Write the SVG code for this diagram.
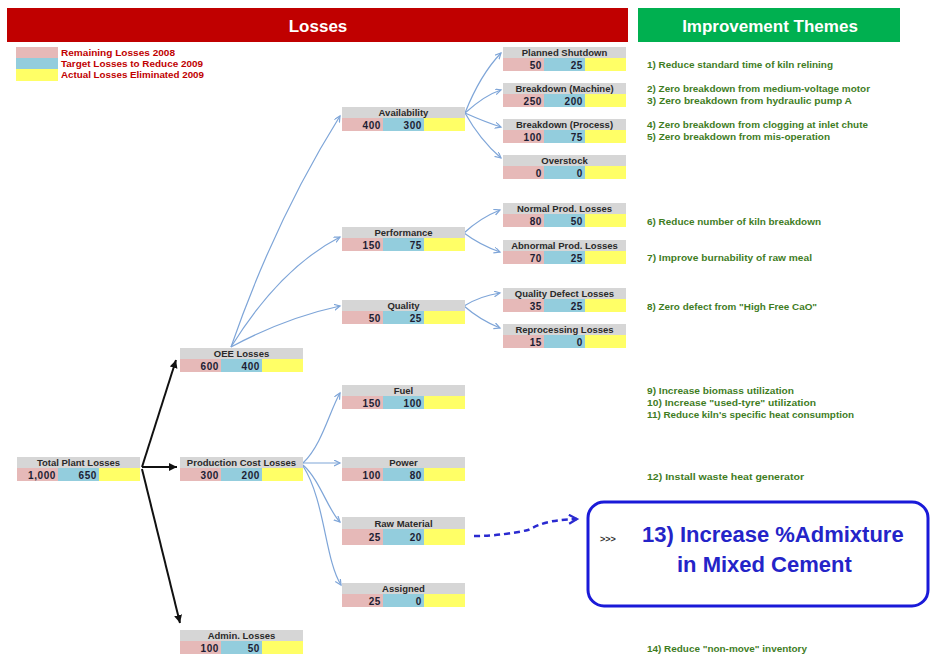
<svg xmlns="http://www.w3.org/2000/svg" width="932" height="661" viewBox="0 0 932 661">
<style>
text{font-family:"Liberation Sans",Arial,sans-serif;font-weight:bold}
.g{fill:#d6d6d6}.p{fill:#e6b9b8}.b{fill:#93cddd}.y{fill:#ffff66}
.lbl{font-size:9.5px;fill:#2a2a2a;text-anchor:middle}
.val{font-size:10px;fill:#1d1d33;text-anchor:end;letter-spacing:0.6px}
.th{font-size:9.5px;fill:#3f7d1f}
.lg{font-size:9px;fill:#c00000}
.bl{fill:none;stroke:#7ea5d8;stroke-width:1.2}
.bk{fill:none;stroke:#111;stroke-width:2}
</style>
<defs>
<marker id="ab" markerUnits="userSpaceOnUse" markerWidth="8" markerHeight="8" refX="6" refY="3" orient="auto"><path d="M0,0 L6,3 L0,6" fill="none" stroke="#7ea5d8" stroke-width="1.2"/></marker>
<marker id="ak" markerUnits="userSpaceOnUse" markerWidth="10" markerHeight="10" refX="8" refY="4" orient="auto"><path d="M0,0 L8,4 L0,8 Z" fill="#111"/></marker>
<marker id="ad" markerUnits="userSpaceOnUse" markerWidth="12" markerHeight="12" refX="9" refY="5" orient="auto"><path d="M1,0.5 L9,5 L1,9.5" fill="none" stroke="#2a2ad0" stroke-width="2.2"/></marker>
</defs>
<rect width="932" height="661" fill="#fff"/>
<g id="headers">
<rect x="7" y="8" width="621" height="34" fill="#c00000"/>
<text x="318" y="32" font-size="17" fill="#fff" text-anchor="middle">Losses</text>
<rect x="638" y="8" width="262" height="34" fill="#00b050"/>
<text x="770" y="32" font-size="17" fill="#fff" text-anchor="middle">Improvement Themes</text>
</g>
<g id="legend">
<rect class="p" x="16" y="47" width="42" height="11"/>
<rect class="b" x="16" y="58" width="42" height="11"/>
<rect class="y" x="16" y="69" width="42" height="12"/>
<text class="lg" x="61" y="56" textLength="114" lengthAdjust="spacingAndGlyphs">Remaining Losses 2008</text>
<text class="lg" x="61" y="67" textLength="142" lengthAdjust="spacingAndGlyphs">Target Losses to Reduce 2009</text>
<text class="lg" x="61" y="78" textLength="143" lengthAdjust="spacingAndGlyphs">Actual Losses Eliminated 2009</text>
</g>
<g id="connectors">
<path class="bk" d="M142,467 L176,360" marker-end="url(#ak)"/>
<path class="bk" d="M142,467 L177,467" marker-end="url(#ak)"/>
<path class="bk" d="M142,469 L180,623" marker-end="url(#ak)"/>
<path class="bl" d="M231,347 Q275,220 340,116" marker-end="url(#ab)"/>
<path class="bl" d="M231,347 Q280,268 340,237" marker-end="url(#ab)"/>
<path class="bl" d="M231,347 Q285,318 340,306" marker-end="url(#ab)"/>
<path class="bl" d="M465,113 Q480,75 501,53" marker-end="url(#ab)"/>
<path class="bl" d="M465,113 Q485,95 501,90" marker-end="url(#ab)"/>
<path class="bl" d="M465,113 Q485,122 501,127" marker-end="url(#ab)"/>
<path class="bl" d="M465,113 Q480,140 501,158" marker-end="url(#ab)"/>
<path class="bl" d="M464,233 Q480,218 500,210" marker-end="url(#ab)"/>
<path class="bl" d="M464,233 Q480,245 500,252" marker-end="url(#ab)"/>
<path class="bl" d="M464,306 Q480,296 500,293" marker-end="url(#ab)"/>
<path class="bl" d="M464,306 Q480,320 500,328" marker-end="url(#ab)"/>
<path class="bl" d="M303,463 C322,445 330,410 340,393" marker-end="url(#ab)"/>
<path class="bl" d="M303,463 L340,463" marker-end="url(#ab)"/>
<path class="bl" d="M303,465 C320,480 328,510 340,522" marker-end="url(#ab)"/>
<path class="bl" d="M303,466 C325,500 325,560 341,585" marker-end="url(#ab)"/>
<path d="M474,536 C495,536 515,533 528,530 C540,524 548,520 577,519" fill="none" stroke="#2a2ad0" stroke-width="2.5" stroke-dasharray="6,4" marker-end="url(#ad)"/>
</g>
<g id="n-total"><rect class="g" x="17" y="457" width="123" height="11"/><rect class="p" x="17" y="468" width="41" height="13"/><rect class="b" x="58" y="468" width="41" height="13"/><rect class="y" x="99" y="468" width="41" height="13"/><text class="lbl" x="78.5" y="466">Total Plant Losses</text><text class="val" x="56" y="478.5">1,000</text><text class="val" x="97" y="478.5">650</text></g>
<g id="n-oee"><rect class="g" x="180" y="348" width="123" height="11"/><rect class="p" x="180" y="359" width="41" height="13"/><rect class="b" x="221" y="359" width="41" height="13"/><rect class="y" x="262" y="359" width="41" height="13"/><text class="lbl" x="241.5" y="357">OEE Losses</text><text class="val" x="219" y="369.5">600</text><text class="val" x="260" y="369.5">400</text></g>
<g id="n-prod"><rect class="g" x="180" y="457" width="123" height="11"/><rect class="p" x="180" y="468" width="41" height="13"/><rect class="b" x="221" y="468" width="41" height="13"/><rect class="y" x="262" y="468" width="41" height="13"/><text class="lbl" x="241.5" y="466">Production Cost Losses</text><text class="val" x="219" y="478.5">300</text><text class="val" x="260" y="478.5">200</text></g>
<g id="n-admin"><rect class="g" x="180" y="630" width="123" height="11"/><rect class="p" x="180" y="641" width="41" height="13"/><rect class="b" x="221" y="641" width="41" height="13"/><rect class="y" x="262" y="641" width="41" height="13"/><text class="lbl" x="241.5" y="639">Admin. Losses</text><text class="val" x="219" y="651.5">100</text><text class="val" x="260" y="651.5">50</text></g>
<g id="n-avail"><rect class="g" x="342" y="107" width="123" height="11"/><rect class="p" x="342" y="118" width="41" height="13"/><rect class="b" x="383" y="118" width="41" height="13"/><rect class="y" x="424" y="118" width="41" height="13"/><text class="lbl" x="403.5" y="116">Availability</text><text class="val" x="381" y="128.5">400</text><text class="val" x="422" y="128.5">300</text></g>
<g id="n-perf"><rect class="g" x="342" y="227" width="123" height="11"/><rect class="p" x="342" y="238" width="41" height="13"/><rect class="b" x="383" y="238" width="41" height="13"/><rect class="y" x="424" y="238" width="41" height="13"/><text class="lbl" x="403.5" y="236">Performance</text><text class="val" x="381" y="248.5">150</text><text class="val" x="422" y="248.5">75</text></g>
<g id="n-qual"><rect class="g" x="342" y="300" width="123" height="11"/><rect class="p" x="342" y="311" width="41" height="13"/><rect class="b" x="383" y="311" width="41" height="13"/><rect class="y" x="424" y="311" width="41" height="13"/><text class="lbl" x="403.5" y="309">Quality</text><text class="val" x="381" y="321.5">50</text><text class="val" x="422" y="321.5">25</text></g>
<g id="n-fuel"><rect class="g" x="342" y="385" width="123" height="11"/><rect class="p" x="342" y="396" width="41" height="13"/><rect class="b" x="383" y="396" width="41" height="13"/><rect class="y" x="424" y="396" width="41" height="13"/><text class="lbl" x="403.5" y="394">Fuel</text><text class="val" x="381" y="406.5">150</text><text class="val" x="422" y="406.5">100</text></g>
<g id="n-power"><rect class="g" x="342" y="457" width="123" height="11"/><rect class="p" x="342" y="468" width="41" height="13"/><rect class="b" x="383" y="468" width="41" height="13"/><rect class="y" x="424" y="468" width="41" height="13"/><text class="lbl" x="403.5" y="466">Power</text><text class="val" x="381" y="478.5">100</text><text class="val" x="422" y="478.5">80</text></g>
<g id="n-raw"><rect class="g" x="342" y="517" width="123" height="12"/><rect class="p" x="342" y="529" width="41" height="16"/><rect class="b" x="383" y="529" width="41" height="16"/><rect class="y" x="424" y="529" width="41" height="16"/><text class="lbl" x="403.5" y="526.5">Raw Material</text><text class="val" x="381" y="541">25</text><text class="val" x="422" y="541">20</text></g>
<g id="n-assigned"><rect class="g" x="342" y="583" width="123" height="11"/><rect class="p" x="342" y="594" width="41" height="13"/><rect class="b" x="383" y="594" width="41" height="13"/><rect class="y" x="424" y="594" width="41" height="13"/><text class="lbl" x="403.5" y="592">Assigned</text><text class="val" x="381" y="604.5">25</text><text class="val" x="422" y="604.5">0</text></g>
<g id="n-planned"><rect class="g" x="503" y="47" width="123" height="11"/><rect class="p" x="503" y="58" width="41" height="13"/><rect class="b" x="544" y="58" width="41" height="13"/><rect class="y" x="585" y="58" width="41" height="13"/><text class="lbl" x="564.5" y="56">Planned Shutdown</text><text class="val" x="542" y="68.5">50</text><text class="val" x="583" y="68.5">25</text></g>
<g id="n-bmach"><rect class="g" x="503" y="83" width="123" height="11"/><rect class="p" x="503" y="94" width="41" height="13"/><rect class="b" x="544" y="94" width="41" height="13"/><rect class="y" x="585" y="94" width="41" height="13"/><text class="lbl" x="564.5" y="92">Breakdown (Machine)</text><text class="val" x="542" y="104.5">250</text><text class="val" x="583" y="104.5">200</text></g>
<g id="n-bproc"><rect class="g" x="503" y="119" width="123" height="11"/><rect class="p" x="503" y="130" width="41" height="13"/><rect class="b" x="544" y="130" width="41" height="13"/><rect class="y" x="585" y="130" width="41" height="13"/><text class="lbl" x="564.5" y="128">Breakdown (Process)</text><text class="val" x="542" y="140.5">100</text><text class="val" x="583" y="140.5">75</text></g>
<g id="n-overstock"><rect class="g" x="503" y="155" width="123" height="11"/><rect class="p" x="503" y="166" width="41" height="13"/><rect class="b" x="544" y="166" width="41" height="13"/><rect class="y" x="585" y="166" width="41" height="13"/><text class="lbl" x="564.5" y="164">Overstock</text><text class="val" x="542" y="176.5">0</text><text class="val" x="583" y="176.5">0</text></g>
<g id="n-normal"><rect class="g" x="503" y="203" width="123" height="11"/><rect class="p" x="503" y="214" width="41" height="13"/><rect class="b" x="544" y="214" width="41" height="13"/><rect class="y" x="585" y="214" width="41" height="13"/><text class="lbl" x="564.5" y="212">Normal Prod. Losses</text><text class="val" x="542" y="224.5">80</text><text class="val" x="583" y="224.5">50</text></g>
<g id="n-abnormal"><rect class="g" x="503" y="240" width="123" height="11"/><rect class="p" x="503" y="251" width="41" height="13"/><rect class="b" x="544" y="251" width="41" height="13"/><rect class="y" x="585" y="251" width="41" height="13"/><text class="lbl" x="564.5" y="249">Abnormal Prod. Losses</text><text class="val" x="542" y="261.5">70</text><text class="val" x="583" y="261.5">25</text></g>
<g id="n-qdefect"><rect class="g" x="503" y="288" width="123" height="11"/><rect class="p" x="503" y="299" width="41" height="13"/><rect class="b" x="544" y="299" width="41" height="13"/><rect class="y" x="585" y="299" width="41" height="13"/><text class="lbl" x="564.5" y="297">Quality Defect Losses</text><text class="val" x="542" y="309.5">35</text><text class="val" x="583" y="309.5">25</text></g>
<g id="n-reproc"><rect class="g" x="503" y="324" width="123" height="11"/><rect class="p" x="503" y="335" width="41" height="13"/><rect class="b" x="544" y="335" width="41" height="13"/><rect class="y" x="585" y="335" width="41" height="13"/><text class="lbl" x="564.5" y="333">Reprocessing Losses</text><text class="val" x="542" y="345.5">15</text><text class="val" x="583" y="345.5">0</text></g>
<g id="themes">
<text class="th" x="647" y="68" textLength="186" lengthAdjust="spacingAndGlyphs">1) Reduce standard time of kiln relining</text>
<text class="th" x="647" y="92" textLength="223" lengthAdjust="spacingAndGlyphs">2) Zero breakdown from medium-voltage motor</text>
<text class="th" x="647" y="104" textLength="205" lengthAdjust="spacingAndGlyphs">3) Zero breakdown from hydraulic pump A</text>
<text class="th" x="647" y="128" textLength="221" lengthAdjust="spacingAndGlyphs">4) Zero breakdown from clogging at inlet chute</text>
<text class="th" x="647" y="140" textLength="183" lengthAdjust="spacingAndGlyphs">5) Zero breakdown from mis-operation</text>
<text class="th" x="647" y="225" textLength="174" lengthAdjust="spacingAndGlyphs">6) Reduce number of kiln breakdown</text>
<text class="th" x="647" y="261" textLength="165" lengthAdjust="spacingAndGlyphs">7) Improve burnability of raw meal</text>
<text class="th" x="647" y="310" textLength="170" lengthAdjust="spacingAndGlyphs">8) Zero defect from "High Free CaO"</text>
<text class="th" x="647" y="394" textLength="147" lengthAdjust="spacingAndGlyphs">9) Increase biomass utilization</text>
<text class="th" x="647" y="406" textLength="169" lengthAdjust="spacingAndGlyphs">10) Increase "used-tyre" utilization</text>
<text class="th" x="647" y="418" textLength="207" lengthAdjust="spacingAndGlyphs">11) Reduce kiln's specific heat consumption</text>
<text class="th" x="647" y="480" textLength="157" lengthAdjust="spacingAndGlyphs">12) Install waste heat generator</text>
<text class="th" x="647" y="652" textLength="160" lengthAdjust="spacingAndGlyphs">14) Reduce "non-move" inventory</text>
</g>
<g id="n-highlight">
<rect x="588" y="502" width="340" height="104" rx="16" fill="#fff" stroke="#1a1ad8" stroke-width="3"/>
<text x="600" y="542" font-size="9" fill="#333">&gt;&gt;&gt;</text>
<text x="642" y="542" font-size="22" fill="#2424c8">13) Increase %Admixture</text>
<text x="677" y="572" font-size="22" fill="#2424c8">in Mixed Cement</text>
</g>
</svg>
